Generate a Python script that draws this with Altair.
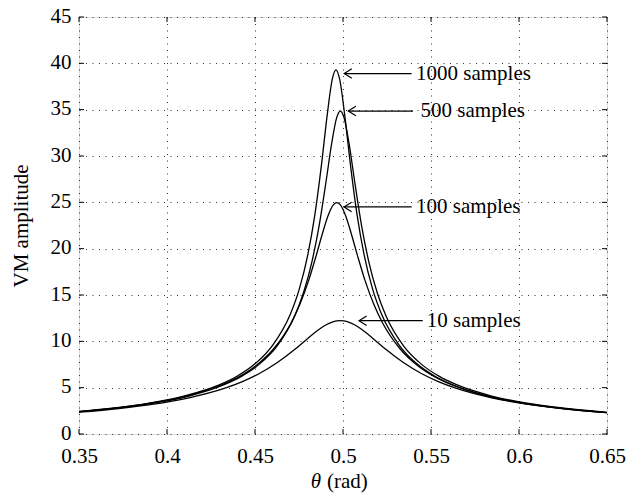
import altair as alt
import pandas as pd

# ---- data ----
x_1000 = [0.35, 0.37, 0.39, 0.41, 0.43, 0.44, 0.45, 0.46, 0.47, 0.475, 0.48, 0.484, 0.488, 0.491, 0.494, 0.496,
          0.498, 0.501, 0.504, 0.508, 0.512, 0.517, 0.522, 0.532, 0.542, 0.552, 0.562, 0.582, 0.602, 0.622, 0.65]
y_1000 = [2.43, 2.81, 3.34, 4.11, 5.33, 6.26, 7.57, 9.57, 12.90, 15.53, 19.32, 23.64, 29.42, 34.38, 38.37, 39.30,
          38.37, 34.38, 29.42, 23.64, 19.32, 15.53, 12.90, 9.57, 7.57, 6.26, 5.33, 4.11, 3.34, 2.81, 2.30]

x_500 = [0.35, 0.3725, 0.3925, 0.4125, 0.4325, 0.4425, 0.4525, 0.4625, 0.4725, 0.4775, 0.4825, 0.4865, 0.4905, 0.4935,
         0.4965, 0.4985, 0.5005, 0.5035, 0.5065, 0.5105, 0.5145, 0.5195, 0.5245, 0.5345, 0.5445, 0.5545, 0.5645,
         0.5845, 0.6045, 0.6245, 0.65]
y_500 = [2.39, 2.81, 3.33, 4.10, 5.32, 6.24, 7.54, 9.49, 12.71, 15.21, 18.72, 22.55, 27.41, 31.28, 34.20, 34.85,
         34.20, 31.28, 27.41, 22.55, 18.72, 15.21, 12.71, 9.49, 7.54, 6.24, 5.32, 4.10, 3.33, 2.81, 2.34]

x_100 = [0.35, 0.3705, 0.3905, 0.4105, 0.4305, 0.4405, 0.4505, 0.4605, 0.4705, 0.4755, 0.4805, 0.4845, 0.4885, 0.4915,
         0.4945, 0.4965, 0.4985, 0.5015, 0.5045, 0.5085, 0.5125, 0.5175, 0.5225, 0.5325, 0.5425, 0.5525, 0.5625,
         0.5825, 0.6025, 0.6225, 0.65]
y_100 = [2.41, 2.80, 3.32, 4.07, 5.26, 6.14, 7.37, 9.17, 11.98, 14.00, 16.58, 19.08, 21.75, 23.55, 24.72, 24.96,
         24.72, 23.55, 21.75, 19.08, 16.58, 14.00, 11.98, 9.17, 7.37, 6.14, 5.26, 4.07, 3.32, 2.80, 2.30]

x_10 = x_500
y_10 = [2.35, 2.75, 3.23, 3.91, 4.92, 5.63, 6.53, 7.68, 9.11, 9.91, 10.71, 11.30, 11.79, 12.05, 12.20, 12.23,
        12.20, 12.05, 11.79, 11.30, 10.71, 9.91, 9.11, 7.68, 6.53, 5.63, 4.92, 3.91, 3.23, 2.75, 2.30]

ann_labels = ["1000 samples", "500 samples", "100 samples", "10 samples"]
ann_tip_x = [0.5007, 0.5030, 0.5006, 0.5091]
ann_tip_y = [38.9, 34.85, 24.5, 12.23]
ann_end_x = [0.539, 0.5398, 0.539, 0.5453]
ann_text_x = [0.5415, 0.5441, 0.5415, 0.5476]

x_ticks = [0.35, 0.4, 0.45, 0.5, 0.55, 0.6, 0.65]
y_ticks = [0, 5, 10, 15, 20, 25, 30, 35, 40, 45]

# ---- tables ----
rows = []
for name, xs, ys in [("1000", x_1000, y_1000), ("500", x_500, y_500),
                     ("100", x_100, y_100), ("10", x_10, y_10)]:
    for a, b in zip(xs, ys):
        rows.append({"series": name, "x": a, "y": b})
curves = pd.DataFrame(rows)
ann = pd.DataFrame({"label": ann_labels, "x": ann_tip_x, "y": ann_tip_y,
                    "x2": ann_end_x, "tx": ann_text_x})
xt = pd.DataFrame({"x": x_ticks})
yt = pd.DataFrame({"y": y_ticks})

W, H = 528, 417
FONT = "Liberation Serif"
FS = 21

xscale = alt.Scale(domain=[0.35, 0.65], nice=False, zero=False)
yscale = alt.Scale(domain=[0, 45], nice=False, zero=True)

xaxis = alt.Axis(values=x_ticks, format=".2~f", grid=True, ticks=False, domain=False,
                 title=None, labelFont=FONT, labelFontSize=FS, labelColor="black",
                 labelPadding=11, gridColor="#333333", gridDash=[1, 5.5], gridWidth=1,
                 labelFlush=False)
yaxis = alt.Axis(values=y_ticks, grid=True, ticks=False, domain=False,
                 title="VM amplitude", titleFont=FONT, titleFontSize=FS,
                 titleFontWeight="normal", titleColor="black", titlePadding=19,
                 labelFont=FONT, labelFontSize=FS, labelColor="black", labelPadding=8,
                 labelOffset=-1,
                 gridColor="#333333", gridDash=[1, 5.5], gridWidth=1, labelFlush=False)

lines = alt.Chart(curves).mark_line(color="black", strokeWidth=1.3, interpolate="monotone").encode(
    x=alt.X("x:Q", scale=xscale, axis=xaxis),
    y=alt.Y("y:Q", scale=yscale, axis=yaxis),
    detail="series:N",
    order="x:Q",
)

arrow_lines = alt.Chart(ann).mark_rule(color="black", strokeWidth=1.2).encode(
    x="x:Q", x2="x2:Q", y="y:Q")
arrow_heads = alt.Chart(ann).mark_point(
    shape="M1.6,-1L0,0L1.6,1", filled=False, color="black", strokeWidth=1.2, size=90, opacity=1
).encode(x="x:Q", y="y:Q")
texts = alt.Chart(ann).mark_text(align="left", baseline="middle", font=FONT, fontSize=FS,
                                 color="black", dx=0).encode(
    x="tx:Q", y="y:Q", text="label:N")

# inward ticks
bt = alt.Chart(xt).mark_rule(color="black").encode(x="x:Q", y=alt.value(H), y2=alt.value(H - 5))
tt = alt.Chart(xt).mark_rule(color="black").encode(x="x:Q", y=alt.value(0), y2=alt.value(5))
lt = alt.Chart(yt).mark_rule(color="black").encode(y="y:Q", x=alt.value(0), x2=alt.value(5))
rt = alt.Chart(yt).mark_rule(color="black").encode(y="y:Q", x=alt.value(W), x2=alt.value(W - 5))

# x title with italic theta
title_df = pd.DataFrame({"t": ["θ"], "r": ["(rad)"]})
theta = alt.Chart(title_df).mark_text(align="right", baseline="middle", font=FONT, fontSize=FS,
                                      fontStyle="italic", color="black").encode(
    x=alt.value(242), y=alt.value(H + 48), text="t:N")
rad = alt.Chart(title_df).mark_text(align="left", baseline="middle", font=FONT, fontSize=FS,
                                    color="black").encode(
    x=alt.value(248), y=alt.value(H + 48), text="r:N")

chart = alt.layer(lines, bt, tt, lt, rt, arrow_lines, arrow_heads, texts, theta, rad).properties(
    width=W, height=H,
    autosize=alt.AutoSizeParams(type="none"),
    padding={"left": 79, "top": 17, "right": 30, "bottom": 59},
).configure_view(stroke="black", strokeWidth=1.2).configure(background="white")

chart.save("out.html", embed_options={"renderer": "svg", "actions": False})
